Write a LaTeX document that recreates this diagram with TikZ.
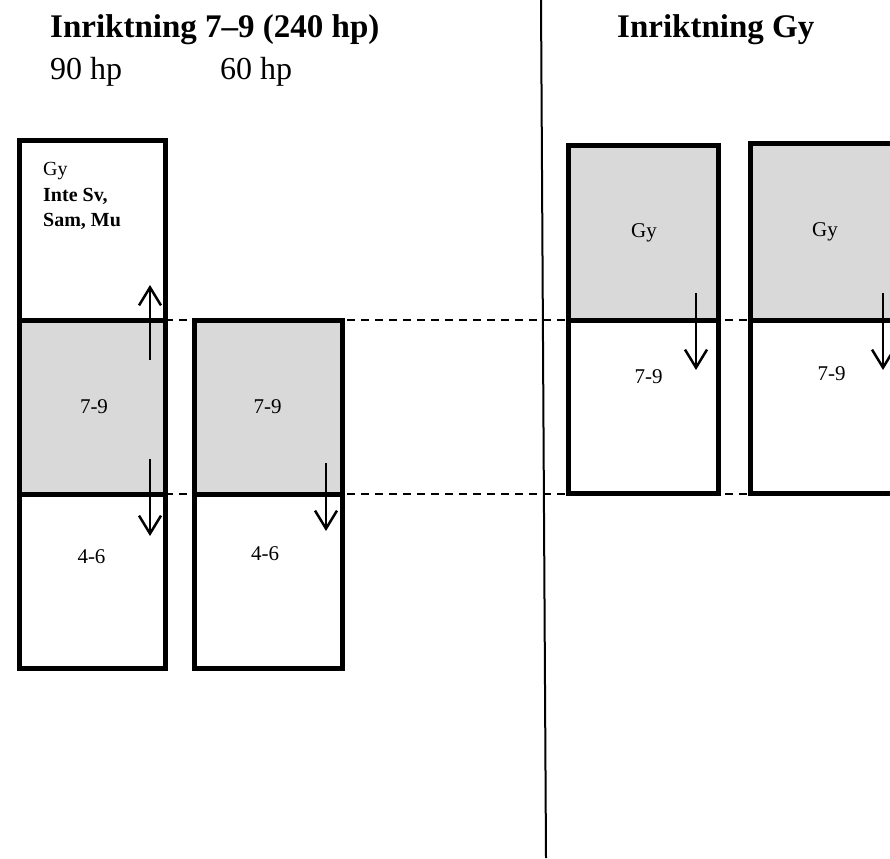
\documentclass[tikz,border=0pt]{standalone}
\usepackage{fontspec}
\setmainfont{Liberation Serif}
\usetikzlibrary{arrows.meta}
\definecolor{boxgray}{HTML}{D9D9D9}
\tikzset{
  cell/.style={draw=black, line width=5pt, inner sep=0pt, outer sep=0pt, fill=white},
  graycell/.style={cell, fill=boxgray},
  guide/.style={draw=black, line width=2pt, dash pattern=on 8pt off 6pt},
  mover/.style={draw=black, line width=2.5pt, -{Straight Barb[length=18pt,width=22pt,line width=2.5pt]}},
  divider/.style={draw=black, line width=2pt},
  head/.style={font=\fontsize{33}{40}\selectfont\bfseries, anchor=base west, inner sep=0pt},
  sub/.style={font=\fontsize{32}{38}\selectfont, anchor=base west, inner sep=0pt},
  lbl/.style={font=\fontsize{21}{25}\selectfont, anchor=base, inner sep=0pt}
}
\begin{document}
\begin{tikzpicture}[x=1pt, y=-1pt]
\useasboundingbox (0,0) rectangle (890,858);
\fill[white] (0,0) rectangle (890,858);

% divider
\coordinate (dtop) at (541,0);
\coordinate (dbot) at (546,858);
\draw[divider] (dtop) -- (dbot);

% dashed guide lines
\coordinate (g1a) at (165,320);
\coordinate (g1b) at (752,320);
\coordinate (g2a) at (165,494);
\coordinate (g2b) at (752,494);
\draw[guide] (g1a) -- (g1b);
\draw[guide] (g2a) -- (g2b);

% column 1
\node[cell, minimum width=146pt, minimum height=179.5pt] (c1top) at (92.5,230.25) {};
\node[cell, minimum width=146pt, minimum height=174pt] (c1low) at (92.5,581) {};
\node[graycell, minimum width=146pt, minimum height=174pt] (c1mid) at (92.5,407) {};

% column 2
\node[cell, minimum width=147.5pt, minimum height=174pt] (c2low) at (268.25,581) {};
\node[graycell, minimum width=147.5pt, minimum height=174pt] (c2mid) at (268.25,407) {};

% column 3
\node[cell, minimum width=150pt, minimum height=173pt] (c3low) at (643,406.5) {};
\node[graycell, minimum width=150pt, minimum height=174.5pt] (c3top) at (643,232.75) {};

% column 4
\node[cell, minimum width=150pt, minimum height=173pt] (c4low) at (825.5,406.5) {};
\node[graycell, minimum width=150pt, minimum height=176pt] (c4top) at (825.5,232) {};

% arrows
\coordinate (a1s) at (150,360); \coordinate (a1e) at (150,285);
\coordinate (a2s) at (150,459); \coordinate (a2e) at (150,536);
\coordinate (a3s) at (326,463); \coordinate (a3e) at (326,531);
\coordinate (a4s) at (696,293); \coordinate (a4e) at (696,370);
\coordinate (a5s) at (883,293); \coordinate (a5e) at (883,370);
\draw[mover] (a1s) -- (a1e);
\draw[mover] (a2s) -- (a2e);
\draw[mover] (a3s) -- (a3e);
\draw[mover] (a4s) -- (a4e);
\draw[mover] (a5s) -- (a5e);

% headings
\node[head] (t1) at (50,38) {Inriktning 7–9 (240 hp)};
\node[sub] (h90) at (50,80) {90 hp};
\node[sub] (h60) at (220,80) {60 hp};
\node[head] (t2) at (617,38) {Inriktning Gy};

% box labels
\node[font=\fontsize{20}{25.5}\selectfont, anchor=base west, inner sep=0pt, align=left] (gytext) at (43,227)
  {Gy\\\textbf{Inte Sv,}\\\textbf{Sam, Mu}};
\node[lbl] (l1) at (94,413) {7-9};
\node[lbl] (l2) at (91.5,563) {4-6};
\node[lbl] (l3) at (267.5,413) {7-9};
\node[lbl] (l4) at (265,560) {4-6};
\node[lbl] (l5) at (644,238) {Gy};
\node[lbl] (l6) at (648.5,383) {7-9};
\node[lbl] (l7) at (825,237) {Gy};
\node[lbl] (l8) at (831.5,380) {7-9};
\end{tikzpicture}
\end{document}
